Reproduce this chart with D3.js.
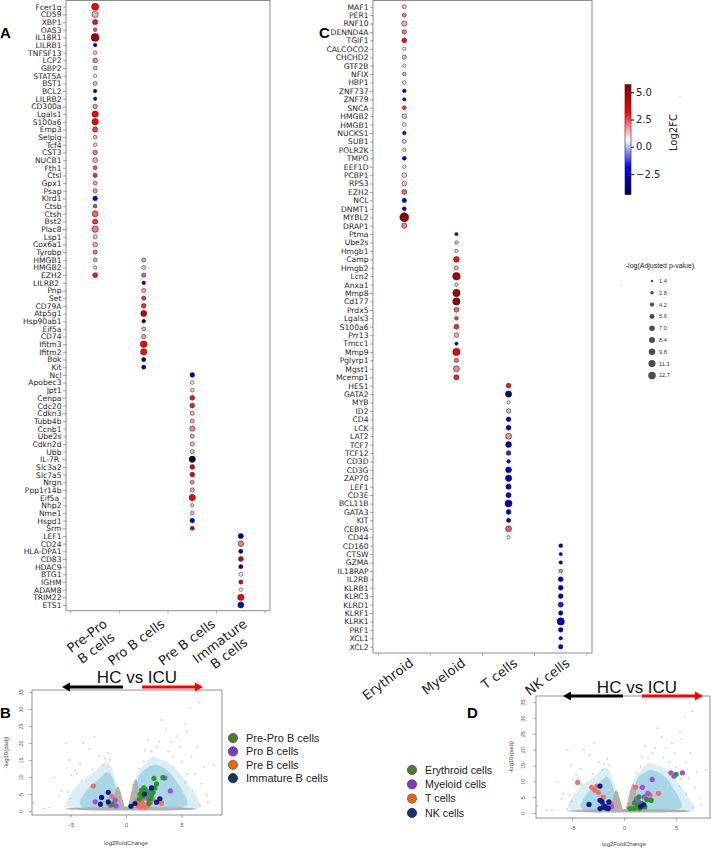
<!DOCTYPE html>
<html lang="en">
<head>
<meta charset="UTF-8">
<title>HC vs ICU dot plots and volcano plots</title>
<style>
  body { margin: 0; background: #fff; }
  svg { display: block; font-family: "DejaVu Sans", sans-serif; }
</style>
</head>
<body>
<div id="chart"></div>
<script src="https://d3js.org/d3.v7.min.js"></script>
<script>
const WIDTH = 715, HEIGHT = 848;

// ---------- panel A : bone marrow B cell stages ----------
// y tick labels, top to bottom (trailing spaces kept as in the original labels)
const rowsA = ["Fcer1g","CD59","XBP1","OAS3","IL18R1","LILRB1","TNFSF13","LCP2","GBP2","STAT5A","BST1","BCL2","LILRB2","CD300a","Lgals1","S100a6","Emp3","Selplg","Tcf4","CST3","NUCB1","Fth1","Ctsl","Gpx1","Psap","Klrd1","Ctsb","Ctsh","Bst2","Plac8","Lsp1","Cox6a1","Tyrobp","HMGB1","HMGB2","EZH2",
  "LILRB2 ","Pnp","Set","CD79A","Atp5g1","Hsp90ab1","Eif5a","CD74","Ifitm3","Ifitm2","Bok","Kit",
  "Ncl","Apobec3","Jpt1","Cenpa","Cdc20","Cdkn3","Tubb4b","Ccnb1","Ube2s","Cdkn2d","Ubb","IL-7R ","Slc3a2","Slc7a5","Nrgn","Ppp1r14b","Eif5a ","Nhp2","Nme1","Hspd1","Srm",
  "LEF1","CD24","HLA-DPA1","CD83","HDAC9","BTG1","IGHM","ADAM8","TRIM22","ETS1"];
const colsA = ["Pre-Pro\nB cells", "Pro B cells", "Pre B cells", "Immature\nB cells"];
// [gene, log2FC, -log(adjusted p)]
const preProB = [["Fcer1g",3.2,11],["CD59",1.5,9],["XBP1",3.0,6],["OAS3",2.5,3],["IL18R1",5.0,14],["LILRB1",-3.8,3],["TNFSF13",1.2,3],["LCP2",1.8,5],["GBP2",1.3,3.5],["STAT5A",0.6,2.5],["BST1",1.4,3.5],["BCL2",-2.5,3],["LILRB2",-2.6,2.8],["CD300a",1.7,4.5],["Lgals1",3.3,9],["S100a6",3.4,9],["Emp3",2.6,6],["Selplg",1.3,3],["Tcf4",1.1,3],["CST3",2.0,4.5],["NUCB1",1.5,5.5],["Fth1",2.4,3.5],["Ctsl",2.7,4],["Gpx1",1.6,3.5],["Psap",1.7,4],["Klrd1",-2.2,5],["Ctsb",2.6,3],["Ctsh",2.2,8],["Bst2",2.7,6],["Plac8",2.0,9],["Lsp1",1.3,3.5],["Cox6a1",1.5,5],["Tyrobp",2.0,4],["HMGB1",1.5,3.5],["HMGB2",0.9,2.5],["EZH2",2.9,5.5]];
const proB = [["HMGB1",1.6,4],["HMGB2",1.2,3.5],["EZH2",2.2,4],["LILRB2 ",-2.8,3],["Pnp",1.5,4],["Set",2.6,4],["CD79A",2.8,5],["Atp5g1",4.2,8],["Hsp90ab1",-3.5,3],["Eif5a",1.5,3.5],["CD74",1.6,4],["Ifitm3",3.3,10],["Ifitm2",3.1,9],["Bok",-3.6,4],["Kit",-2.4,4]];
const preB = [["Ncl",-2.4,5],["Apobec3",1.0,3],["Jpt1",1.2,3],["Cenpa",3.0,5],["Cdc20",3.0,5],["Cdkn3",1.4,3.5],["Tubb4b",1.5,3.5],["Ccnb1",1.9,6],["Ube2s",1.6,3.5],["Cdkn2d",1.4,4.5],["Ubb",1.4,4],["IL-7R ",-4.2,9],["Slc3a2",3.5,5],["Slc7a5",3.8,5],["Nrgn",1.7,3.5],["Ppp1r14b",1.5,4],["Eif5a ",3.2,9],["Nhp2",1.2,2.5],["Nme1",1.4,3],["Hspd1",-2.3,5],["Srm",4.0,3.5]];
const immatureB = [["LEF1",-3.8,6],["CD24",2.0,7],["HLA-DPA1",-3.9,4],["CD83",4.0,5.5],["HDAC9",-2.7,4],["BTG1",0.5,3.5],["IGHM",3.7,4],["ADAM8",0.7,2.5],["TRIM22",3.2,9],["ETS1",-2.5,8]];

// ---------- panel C : other lineages ----------
const rowsC = ["MAF1","PER1","RNF10","DENND4A","TGIF1","CALCOCO2","CHCHD2","GTF2B","NFIX","HBP1","ZNF737","ZNF79","SNCA","HMGB2","HMGB1","NUCKS1","SUB1","POLR2K","TMPO","EEF1D","PCBP1","RPS3","EZH2","NCL","DNMT1","MYBL2","DRAP1",
  "Ptma","Ube2s","Hmgb1","Camp","Hmgb2","Lcn2","Anxa1","Mmp8","Cd177","Prdx5","Lgals3","S100a6","Prr13","Tmcc1","Mmp9","Pglyrp1","Mgst1","Mcemp1",
  "HES1","GATA2","MYB","ID2","CD4","LCK","LAT2","TCF7","TCF12","CD3D","CD3G","ZAP70","LEF1","CD3E","BCL11B","GATA3","KIT","CEBPA","CD44",
  "CD160","CTSW","GZMA","IL18RAP","IL2RB","KLRB1","KLRC3","KLRD1","KLRF1","KLRK1","PRF1","XCL1","XCL2"];
const colsC = ["Erythroid", "Myeloid", "T cells", "NK cells"];
const erythroid = [["MAF1",1.3,3.5],["PER1",2.0,3.5],["RNF10",1.5,6],["DENND4A",2.0,4.5],["TGIF1",3.1,5],["CALCOCO2",0.6,2.5],["CHCHD2",1.4,4],["GTF2B",0.6,2.5],["NFIX",1.6,3],["HBP1",1.0,3],["ZNF737",-2.0,3],["ZNF79",-2.2,2.5],["SNCA",2.6,3.5],["HMGB2",1.3,5],["HMGB1",0.9,3.5],["NUCKS1",-1.8,3],["SUB1",1.2,3.5],["POLR2K",0.5,2.5],["TMPO",-2.1,3.5],["EEF1D",0.7,2.5],["PCBP1",1.1,5],["RPS3",1.2,5],["EZH2",2.2,5.5],["NCL",-2.0,4.5],["DNMT1",-2.3,3.5],["MYBL2",5.3,18],["DRAP1",1.9,6]];
const myeloid = [["Ptma",-2.0,2.5],["Ube2s",1.4,2.5],["Hmgb1",1.2,2.5],["Camp",3.0,7.5],["Hmgb2",1.4,3.5],["Lcn2",4.8,13],["Anxa1",1.2,2.5],["Mmp8",4.9,12],["Cd177",5.4,12],["Prdx5",2.2,5.5],["Lgals3",2.6,3],["S100a6",2.8,5.5],["Prr13",1.5,5],["Tmcc1",-1.9,2.5],["Mmp9",3.3,12],["Pglyrp1",2.1,4],["Mgst1",1.9,8],["Mcemp1",2.9,6]];
const tCells = [["HES1",3.0,5],["GATA2",-4.0,9],["MYB",0.6,2.5],["ID2",1.5,4.5],["CD4",-2.5,5],["LCK",-2.6,5.5],["LAT2",1.8,8],["TCF7",-2.6,8],["TCF12",-1.5,5],["CD3D",-2.3,3],["CD3G",-2.6,8],["ZAP70",-2.7,9],["LEF1",-2.6,6],["CD3E",-2.5,6],["BCL11B",-2.9,11],["GATA3",-2.6,5.5],["KIT",-2.4,4],["CEBPA",2.3,8],["CD44",0.8,2.5]];
const nkCells = [["CD160",-2.5,3.5],["CTSW",-2.2,2.5],["GZMA",-2.4,3],["IL18RAP",1.8,3],["IL2RB",-2.6,5.5],["KLRB1",-2.6,5.5],["KLRC3",-3.3,5],["KLRD1",-1.6,6],["KLRF1",-2.5,4.5],["KLRK1",-2.5,12],["PRF1",-2.6,5],["XCL1",-2.3,3],["XCL2",-2.3,4.5]];

// colour bar and size legend
const log2fcRange = [-4.4, 5.7];
const cbarTicks = [5.0, 2.5, 0.0, -2.5];
const sizeLegend = [1.4, 2.8, 4.2, 5.6, 7.0, 8.4, 9.8, 11.3, 12.7];

// ---------- volcano plots (B and D share the background genes) ----------
const xTicksVolcano = [-5, 0, 5];
const yTicksVolcano = [0, 5, 10, 15, 20, 25, 30, 35];
// outlines (control points) of the clouds of genes, [log2FoldChange, -log10(padj)]
const cloudLeftOuter = [[-5.7,0.4],[-5.3,3.5],[-4.7,6.5],[-4.0,9],[-3.3,10.5],[-2.6,12],[-1.9,15],[-1.3,13.5],[-1.0,9.5],[-0.7,7],[-0.6,3],[-1.0,0.3]];
const cloudLeftInner = [[-4.4,0.5],[-4.1,3.5],[-3.5,6.5],[-2.8,8.5],[-2.2,10],[-1.7,12],[-1.3,10.5],[-1.0,8],[-0.8,5],[-0.9,0.5]];
const cloudRightOuter = [[1.2,0.3],[0.8,6],[0.8,10],[1.3,12.5],[1.9,14.5],[2.4,16.5],[3.0,15],[3.6,15],[4.3,13],[5.0,10.5],[5.7,7.5],[6.3,4.5],[6.8,1.5],[6.9,0.3]];
const cloudRightInner = [[1.3,0.5],[0.95,5],[1.0,9.5],[1.5,12],[2.1,13],[2.6,14],[3.2,13],[3.8,12],[4.4,9.5],[5.0,6.5],[5.5,3.5],[5.8,0.5]];
const grayArmLeft = [[-1.4,0.3],[-1.1,4],[-0.85,7.5],[-0.6,7],[-0.35,4],[-0.12,1.2],[-0.05,0.2]];
const grayArmRight = [[0.05,0.2],[0.2,1.5],[0.45,5],[0.7,9],[1.0,9.8],[1.15,6],[1.35,2.5],[1.6,0.3]];
const grayBand = [[-5.9,0.1],[-5.5,0.9],[-3,1.1],[-1.3,1.3],[1.5,1.3],[4,1.1],[6.4,0.9],[6.9,0.1]];
const outliers = [[-8.35,2.3],[-6.46,9.9],[-5.4,19.9],[-5.1,15],[-5.45,1.3],[-3.85,20],[-3.3,18.3],[-2.85,21.9],[-4.15,14],[-4.6,12],[-5.0,3.7],[-1.9,15.5],[-1.45,15],[3.2,26.8],[3.6,24],[5.35,25.5],[5.5,23.4],[5.8,30.2],[6.55,32.1],[4.03,20.4],[4.86,18.9],[2.76,18.9],[2.3,17.5],[6.4,18.9],[7.9,13.5],[7.0,13],[6.65,1.8],[7.25,4.7],[5.9,16],[4.3,16],[5.5,10.8],[-6.0,4.5],[-5.8,6.0],[-4.9,10.5],[-2.4,16.2],[-1.6,17],[1.7,17.8],[3.0,20.5],[3.8,17.5],[5.0,14.5],[6.2,11],[6.8,8],[7.4,2.5],[4.6,22],[2.0,21],[-6.9,1.0],[-7.4,0.8],[-4.0,8.8],[-3.0,12.2],[-2.1,13.5],[1.2,12.5],[1.6,14.6],[4.2,13],[5.3,8.4],[6.0,6],[-5.2,5.6],[-4.4,11]];

const legendB = ["Pre-Pro B cells", "Pro B cells", "Pre B cells", "Immature B cells"];
const legendD = ["Erythroid cells", "Myeloid cells", "T cells", "NK cells"];
const legendColors = ["#4b7d2c", "#7a3dbd", "#e0671d", "#1c3562"];
const pointColors = ["#249c24", "#a24de6", "#f07068", "#0c1a8a"];
// highlighted genes in B, one array per stage
const bPrePro = [[-1.22,2.0],[1.26,4.9],[1.4,6.1],[1.6,6.8],[1.86,5.1],[2.07,2.3],[2.3,4.5],[2.45,5.5],[2.6,6.8],[2.75,8],[2.52,9.6],[1.2,3.5],[1.5,4.2],[2.2,3.6],[1.75,6.3],[3.33,9.8]];
const bProB = [[-2.78,2.7],[-1.4,1.7],[-0.98,3.2],[-0.9,1.5],[1.65,5.2],[2.0,3.7],[3.5,9.7],[4.0,5.9],[2.2,5.9]];
const bPreB = [[-2.94,7.35],[-1.27,4.2],[-1.6,2.2],[1.1,1.5],[1.2,2.6],[1.3,1.2],[1.45,3.2],[1.55,2.0],[1.7,1.1],[1.8,3.8],[1.35,4.0],[2.0,1.6],[2.4,3.4],[2.6,6.8],[3.2,2.3],[2.2,2.5],[1.0,3.0]];
const bImmature = [[-2.3,2.0],[-2.2,4.0],[-1.6,5.5],[-1.6,2.7],[0.45,1.4],[0.81,2.2],[1.65,5.0],[2.3,6.8],[2.75,2.6],[3.05,3.6]];
// highlighted genes in D, one array per lineage
const dErythroid = [[-1.6,2.2],[0.57,1.4],[0.99,1.4],[1.44,5.1],[1.0,3.2],[1.5,1.4],[2.2,4.2],[2.6,4.0],[2.0,1.9],[1.7,3.0],[5.0,12.2],[1.3,2.4]];
const dMyeloid = [[-1.2,2.0],[1.76,8.1],[2.7,10.6],[1.2,4.4],[1.95,5.1],[2.3,6.2],[1.7,2.8],[4.5,12.7],[5.6,12.7],[4.8,11.6],[1.4,3.5]];
const dTcells = [[-4.44,9.65],[-3.1,8.1],[-2.6,8.5],[-2.45,6.4],[-2.0,5.0],[-1.2,2.8],[1.12,8.1],[0.9,2.1],[2.5,5.6],[3.3,6.2],[-2.8,7.2]];
const dNK = [[-2.3,8.5],[-3.36,2.7],[-2.3,1.4],[-2.3,4.0],[-2.1,3.5],[-1.9,2.2],[-1.7,1.6],[-1.45,3.5],[-1.5,1.4],[-2.0,1.8],[1.6,2.0],[1.9,2.6]];

// ---------- scales shared by the dot plots ----------
const [vmin, vmax] = log2fcRange;
const span = vmax - vmin;
// matplotlib "seismic"
const color = d3.scaleLinear()
  .domain([vmin, vmin + span * 0.25, vmin + span * 0.5, vmin + span * 0.75, vmax])
  .range(["#00004d", "#0000ff", "#ffffff", "#ff0000", "#800000"]);
const radius = d3.scaleSqrt().domain([0, 12.7]).range([0, 3.75]);

const svg = d3.select('#chart').append('svg')
  .attr('width', WIDTH).attr('height', HEIGHT)
  .attr('viewBox', `0 0 ${WIDTH} ${HEIGHT}`);
const defs = svg.append('defs');

function dotPanel(cfg) {
  const g = svg.append('g');
  const x = d3.scaleLinear().domain([-0.6, 3.6]).range([cfg.left, cfg.right]);
  const y = d3.scalePoint().domain(cfg.rows).range([cfg.rowTop, cfg.rowBottom]);

  g.append('rect')
    .attr('x', cfg.left).attr('y', cfg.top)
    .attr('width', cfg.right - cfg.left).attr('height', cfg.bottom - cfg.top)
    .attr('fill', 'none').attr('stroke', '#8c8c8c').attr('stroke-width', 1);

  const yAx = g.append('g').attr('transform', `translate(${cfg.left},0)`)
    .call(d3.axisLeft(y).tickSize(3).tickPadding(1.5));
  yAx.select('.domain').remove();
  yAx.attr('font-family', '"DejaVu Sans", sans-serif').attr('font-size', 7.6);
  yAx.selectAll('line').attr('stroke', '#666').attr('stroke-width', 0.6);
  yAx.selectAll('text').attr('fill', '#262626').style('white-space', 'pre');

  // minor ticks between categories
  g.selectAll('.xtick').data([-0.5, 0.5, 1.5, 2.5, 3.5]).enter().append('line')
    .attr('x1', d => x(d)).attr('x2', d => x(d))
    .attr('y1', cfg.bottom).attr('y2', cfg.bottom + 3)
    .attr('stroke', '#888').attr('stroke-width', 0.6);

  cfg.columns.forEach((dots, i) => {
    g.append('g').selectAll('circle').data(dots).enter().append('circle')
      .attr('cx', x(i))
      .attr('cy', d => y(d[0]))
      .attr('r', d => radius(d[2]))
      .attr('fill', d => color(d[1]))
      .attr('stroke', '#111').attr('stroke-width', 0.5);
  });

  // rotated category labels, lines centred inside the block
  const FS = 13;
  cfg.labels.forEach((name, i) => {
    const lab = g.append('g')
      .attr('transform', `translate(${x(i) + cfg.labelDx[i]},${cfg.bottom + cfg.labelDy}) rotate(-37)`);
    const texts = name.split('\n').map((s, k) => lab.append('text')
      .text(s)
      .attr('y', FS * 0.76 + k * FS * 1.17)
      .attr('text-anchor', 'middle')
      .attr('font-size', FS)
      .attr('fill', '#222'));
    const W = d3.max(texts, t => t.node().getComputedTextLength());
    texts.forEach(t => t.attr('x', -W / 2));
  });
}

dotPanel({
  left: 66, right: 270, top: 0.5, bottom: 610.7, rowTop: 6.7, rowBottom: 605,
  rows: rowsA, labels: colsA, columns: [preProB, proB, preB, immatureB],
  labelDx: [7, 16, 18, 1], labelDy: 7
});
dotPanel({
  left: 373, right: 592, top: 0.5, bottom: 653, rowTop: 6.7, rowBottom: 646.7,
  rows: rowsC, labels: colsC, columns: [erythroid, myeloid, tCells, nkCells],
  labelDx: [4, 4, 4, 4], labelDy: 4
});

// ---------- colour bar ----------
const cb = { x: 625, w: 6 };
const cbY = d3.scaleLinear().domain([5.0, -2.5]).range([92.3, 174]);
const grad = defs.append('linearGradient')
  .attr('id', 'cbar').attr('x1', 0).attr('x2', 0).attr('y1', 1).attr('y2', 0);
d3.range(0, 1.0001, 0.05).forEach(t => {
  grad.append('stop').attr('offset', t).attr('stop-color', color(vmin + t * span));
});
svg.append('rect')
  .attr('x', cb.x).attr('y', cbY(vmax)).attr('width', cb.w)
  .attr('height', cbY(vmin) - cbY(vmax))
  .attr('fill', 'url(#cbar)').attr('stroke', '#222').attr('stroke-width', 0.6);
const cbAx = svg.append('g').attr('transform', `translate(${cb.x + cb.w},0)`)
  .call(d3.axisRight(cbY).tickValues(cbarTicks).tickSize(3).tickPadding(2)
    .tickFormat(d => d3.format('.1f')(d).replace('-', '\u2212')));
cbAx.select('.domain').remove();
cbAx.attr('font-family', '"DejaVu Sans", sans-serif').attr('font-size', 10);
cbAx.selectAll('text').attr('fill', '#222');
svg.append('text')
  .attr('transform', `translate(677,${cbY(1.3)}) rotate(-90)`)
  .attr('text-anchor', 'middle').attr('font-size', 10).attr('fill', '#222')
  .text('Log2FC');

// ---------- size legend ----------
const sl = svg.append('g').attr('font-family', '"Liberation Sans", Arial, sans-serif');
sl.append('text').attr('x', 660).attr('y', 268).attr('text-anchor', 'middle')
  .attr('font-size', 7).attr('fill', '#222').text('-log(Adjusted p-value)');
sl.selectAll('circle').data(sizeLegend).enter().append('circle')
  .attr('cx', 652).attr('cy', (d, i) => 281 + i * 11.8)
  .attr('r', d => radius(d)).attr('fill', '#4d4d4d');
sl.selectAll('.sz').data(sizeLegend).enter().append('text')
  .attr('x', 659).attr('y', (d, i) => 281 + i * 11.8 + 2)
  .attr('font-size', 5.6).attr('fill', '#333')
  .text(d => d.toFixed(1));

// tiny specks left in the figure
svg.append('circle').attr('cx', 680).attr('cy', 97).attr('r', 0.6).attr('fill', '#999');
svg.append('circle').attr('cx', 621).attr('cy', 285).attr('r', 0.6).attr('fill', '#999');

// ---------- volcano plots ----------
const blur = defs.append('filter').attr('id', 'soft')
  .attr('x', '-10%').attr('y', '-10%').attr('width', '120%').attr('height', '120%');
blur.append('feGaussianBlur').attr('stdDeviation', 0.6);

function volcano(cfg) {
  const g = svg.append('g').attr('font-family', '"Liberation Sans", Arial, sans-serif');
  const x = d3.scaleLinear().domain(cfg.xDomain).range([cfg.left, cfg.right]);
  const y = d3.scaleLinear().domain(cfg.yDomain).range([cfg.bottom, cfg.top]);
  const line = d3.line().x(d => x(d[0])).y(d => y(d[1])).curve(d3.curveBasisClosed);

  const clipId = 'clip' + cfg.id;
  defs.append('clipPath').attr('id', clipId).append('rect')
    .attr('x', cfg.left).attr('y', cfg.top)
    .attr('width', cfg.right - cfg.left).attr('height', cfg.bottom - cfg.top);
  const plot = g.append('g').attr('clip-path', `url(#${clipId})`);

  const clouds = plot.append('g').attr('filter', 'url(#soft)');
  [cloudLeftOuter, cloudRightOuter].forEach(p => clouds.append('path')
    .attr('d', line(p)).attr('fill', '#c3e3ee').attr('opacity', 0.6));
  [cloudLeftInner, cloudRightInner].forEach(p => clouds.append('path')
    .attr('d', line(p)).attr('fill', '#a9d6e6'));
  [grayBand, grayArmLeft, grayArmRight].forEach(p => clouds.append('path')
    .attr('d', line(p)).attr('fill', '#b0b0b0'));

  plot.append('g').selectAll('circle').data(outliers).enter().append('circle')
    .attr('cx', d => x(d[0])).attr('cy', d => y(d[1])).attr('r', 0.9)
    .attr('fill', '#a9d4e4');

  // salmon first, then purple, green, navy
  [2, 1, 0, 3].forEach(k => {
    plot.append('g').selectAll('circle').data(cfg.groups[k]).enter().append('circle')
      .attr('cx', d => x(d[0])).attr('cy', d => y(d[1])).attr('r', 2.6)
      .attr('fill', pointColors[k]);
  });

  g.append('rect')
    .attr('x', cfg.left).attr('y', cfg.top)
    .attr('width', cfg.right - cfg.left).attr('height', cfg.bottom - cfg.top)
    .attr('fill', 'none').attr('stroke', '#777').attr('stroke-width', 0.8);

  const xa = g.append('g').attr('transform', `translate(0,${cfg.bottom})`)
    .call(d3.axisBottom(x).tickValues(xTicksVolcano).tickSize(3).tickPadding(5));
  const ya = g.append('g').attr('transform', `translate(${cfg.left},0)`)
    .call(d3.axisLeft(y).tickValues(yTicksVolcano).tickSize(3));
  [xa, ya].forEach(a => {
    a.select('.domain').remove();
    a.attr('font-family', '"Liberation Sans", Arial, sans-serif').attr('font-size', 5.5);
    a.selectAll('line').attr('stroke', '#777').attr('stroke-width', 0.6);
    a.selectAll('text').attr('fill', '#555');
  });
  // R style: y tick labels parallel to the axis
  ya.selectAll('.tick text')
    .attr('text-anchor', 'middle').attr('x', 0).attr('y', 0).attr('dy', 0)
    .attr('transform', `translate(${-cfg.yTickGap},0) rotate(-90)`);

  g.append('text').attr('x', x(0)).attr('y', cfg.xTitleY).attr('text-anchor', 'middle')
    .attr('font-size', 6).attr('fill', '#444').text('log2FoldChange');
  g.append('text')
    .attr('transform', `translate(${cfg.yTitleX},${(cfg.top + cfg.bottom) / 2}) rotate(-90)`)
    .attr('text-anchor', 'middle').attr('font-size', 6).attr('fill', '#444')
    .text('-log10(padj)');

  // HC vs ICU header with arrows
  g.append('text').attr('x', cfg.title.x).attr('y', cfg.title.y).attr('text-anchor', 'middle')
    .attr('font-size', 17).attr('fill', '#111').text('HC vs ICU');
  const ay = cfg.arrow.y;
  [[cfg.arrow.black, '#000'], [cfg.arrow.red, '#ff0000']].forEach(([seg, c]) => {
    const [from, tip] = seg;
    const dir = Math.sign(tip - from);
    const base = tip - dir * 8;
    g.append('line').attr('x1', from).attr('x2', base).attr('y1', ay).attr('y2', ay)
      .attr('stroke', c).attr('stroke-width', 3);
    g.append('path').attr('d', `M${tip},${ay} L${base},${ay - 4.5} L${base},${ay + 4.5} Z`).attr('fill', c);
  });

  // legend
  const lg = g.append('g');
  cfg.legend.names.forEach((name, i) => {
    const cy = cfg.legend.y + i * cfg.legend.step;
    lg.append('circle').attr('cx', cfg.legend.x).attr('cy', cy).attr('r', 4.6)
      .attr('fill', legendColors[i]).attr('stroke', d3.color(legendColors[i]).darker(0.8)).attr('stroke-width', 0.8);
    lg.append('text').attr('x', cfg.legend.x + 13).attr('y', cy + 3.8)
      .attr('font-size', cfg.legend.fs).attr('fill', '#222').text(name);
  });
}

volcano({
  id: 'B', left: 32, right: 222, top: 690, bottom: 815,
  xDomain: [(32 - 126) / 11.1, (222 - 126) / 11.1],
  yDomain: [(811 - 815) / 3.4, (811 - 690) / 3.4],
  yTickGap: 9, xTitleY: 845, yTitleX: 8,
  groups: [bPrePro, bProB, bPreB, bImmature],
  title: { x: 137, y: 683 },
  arrow: { y: 687, black: [123, 62], red: [142, 203] },
  legend: { names: legendB, x: 233, y: 738, step: 13.4, fs: 11 }
});
volcano({
  id: 'D', left: 536, right: 710, top: 696, bottom: 818,
  xDomain: [(536 - 624) / 10.43, (710 - 624) / 10.43],
  yDomain: [(813 - 818) / 3.17, (813 - 696) / 3.17],
  yTickGap: 11, xTitleY: 846, yTitleX: 513,
  groups: [dErythroid, dMyeloid, dTcells, dNK],
  title: { x: 637, y: 693 },
  arrow: { y: 696, black: [623, 563], red: [642, 703] },
  legend: { names: legendD, x: 412, y: 770, step: 14.3, fs: 10.7 }
});

// ---------- panel letters ----------
const letters = [["A", 0, 38], ["C", 319, 38], ["B", 0, 718], ["D", 467, 718]];
svg.selectAll('.letter').data(letters).enter().append('text')
  .attr('x', d => d[1]).attr('y', d => d[2])
  .attr('font-family', '"Liberation Sans", Arial, sans-serif')
  .attr('font-weight', 'bold').attr('font-size', 15).attr('fill', '#000')
  .text(d => d[0]);
</script>
</body>
</html>
